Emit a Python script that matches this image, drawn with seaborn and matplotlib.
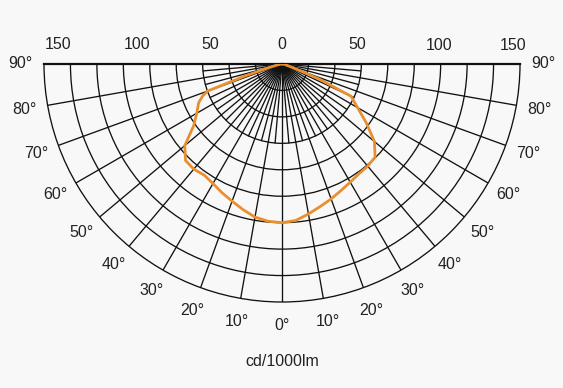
import numpy as np
import pandas as pd
import matplotlib
matplotlib.use("Agg")
import matplotlib.pyplot as plt
import seaborn as sns

# ---- data ----
angles_deg = [0, 5, 10, 15, 20, 25, 30, 35, 40, 45, 50, 55, 60, 65, 68, 70, 72, 75, 80, 85, 90]
left_cd = [100, 99.5, 98, 95, 92, 89.5, 87, 85.5, 86.5, 86, 80, 68, 62, 58, 54, 50, 25, 8, 2, 1, 0]
right_cd = [100, 99, 96, 93, 90.5, 88, 86, 84.5, 84, 83, 76, 65, 55, 48, 25, 10, 6, 3, 2, 1, 0]
top_labels = ["150", "100", "50", "0", "50", "100", "150"]
top_values = [-150, -100, -50, 0, 50, 100, 150]
angle_labels = [0, 10, 20, 30, 40, 50, 60, 70, 80, 90]
unit_label = "cd/1000lm"

R_MAX = 150
N_RINGS = 9

W, H = 563, 388
sns.set_theme(style="white")
plt.rcParams["font.family"] = ["Liberation Sans", "DejaVu Sans"]
bg = "#f8f8f8"
fig = plt.figure(figsize=(W / 100, H / 100), dpi=100, facecolor=bg)

cx, cy, Rpx = 282, 64, 238
# box of height 2R centred on the half-disc (the wedge is drawn in its middle half)
box_top = cy - Rpx / 2
ax = fig.add_axes([(cx - Rpx) / W, (H - box_top - 2 * Rpx) / H, 2 * Rpx / W, 2 * Rpx / H],
                  projection="polar")
ax.set_facecolor(bg)
ax.set_theta_zero_location("S")
ax.set_theta_direction(1)

# data frame for the curve: left side negative angles, right side positive
theta = [-np.deg2rad(a) for a in angles_deg[::-1]] + [np.deg2rad(a) for a in angles_deg[1:]]
cd = left_cd[::-1] + right_cd[1:]
df = pd.DataFrame({"theta": theta, "cd": cd})

grid_col = "#111111"
grid_lw = 0.95
# inner 5-degree radial lines
ring_step = R_MAX / N_RINGS
for a in range(-85, 90, 10):
    t = np.deg2rad(a)
    ax.plot([t, t], [0, 3 * ring_step], color=grid_col, lw=grid_lw, zorder=1)

sns.lineplot(data=df, x="theta", y="cd", ax=ax, color="#e8902f", linewidth=2.0,
             estimator=None, sort=False, zorder=5)

ax.set_thetamin(-90)
ax.set_thetamax(90)
ax.set_ylim(0, R_MAX)
ax.set_aspect("auto")
ax.set_xticks(np.deg2rad(np.arange(-80, 81, 10)))
ax.set_yticks([ring_step * k for k in range(1, N_RINGS)])
ax.set_xticklabels([])
ax.set_yticklabels([])
ax.grid(True, color=grid_col, lw=grid_lw)
ax.set_xlabel("")
ax.set_ylabel("")
ax.spines["polar"].set_color(grid_col)
ax.spines["polar"].set_linewidth(grid_lw)
for s in ("start", "end"):
    ax.spines[s].set_color("#111111")
    ax.spines[s].set_linewidth(1.6)
ax.spines["inner"].set_visible(False)

fs = 11.5
txt_col = "#222222"
# top scale labels
shifts = {-150: 14, -100: 14, -50: 8, 0: 0, 50: -4, 100: -2, 150: -7}
for lab, v in zip(top_labels, top_values):
    t = np.deg2rad(90 if v >= 0 else -90)
    ax.annotate(lab, xy=(t, abs(v)), xytext=(shifts[v], 19), textcoords="offset pixels",
                ha="center", va="center", fontsize=fs, color=txt_col, annotation_clip=False)

# angle labels
for a in angle_labels:
    for sgn in ([1] if a == 0 else [-1, 1]):
        ax.text(np.deg2rad(sgn * a), 165, f"{a}\u00b0", ha="center", va="center",
                fontsize=fs, color=txt_col, clip_on=False)

fig.text(cx / W, 1 - 362 / H, unit_label, ha="center", va="center", fontsize=fs, color=txt_col)

fig.savefig("out.png", dpi=100, facecolor=bg)
